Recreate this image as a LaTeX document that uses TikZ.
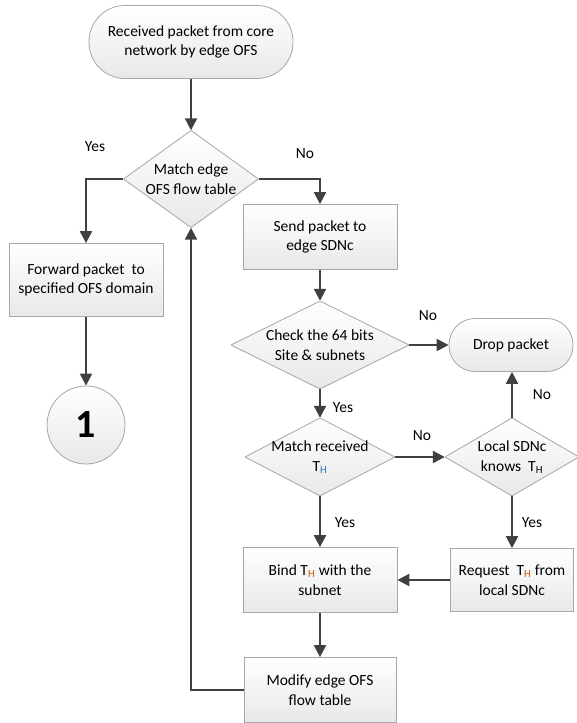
\documentclass[tikz,border=0pt]{standalone}
\usepackage{fontspec}
\setmainfont{Carlito}
\usetikzlibrary{arrows.meta}
\definecolor{linegray}{HTML}{404040}
\definecolor{edgegray}{HTML}{A6A6A6}
\definecolor{thblue}{HTML}{2E75B6}
\definecolor{thbrown}{HTML}{C55A11}
\newcommand{\tsub}[1]{T\textsubscript{#1}}
\tikzset{
  box/.style={draw=edgegray,line width=0.8pt,top color=white,bottom color=gray!18,
    minimum width=154pt,minimum height=65pt,align=center,inner sep=0pt},
  term/.style={box,rounded corners=#1},
  decision/.style={align=center,inner sep=0pt,
    path picture={
      \shade[top color=white,bottom color=gray!18]
        (path picture bounding box.north) -- (path picture bounding box.east)
        -- (path picture bounding box.south) -- (path picture bounding box.west) -- cycle;
      \draw[edgegray,line width=0.8pt]
        (path picture bounding box.north) -- (path picture bounding box.east)
        -- (path picture bounding box.south) -- (path picture bounding box.west) -- cycle;}},
  flow/.style={draw=linegray,line width=2.2pt,-{Triangle[length=12pt,width=12pt]}},
  lbl/.style={inner sep=0pt}
}
\begin{document}
\begin{tikzpicture}[x=1pt,y=-1pt,font=\fontsize{15.5}{19.5}\selectfont]
    \useasboundingbox (0,0) rectangle (577,723);
    %% left branch
    \node[term=36pt,minimum width=204pt,minimum height=73pt] (start) at (191,42) {Received packet from core\\network by edge OFS};
    \node[decision,minimum width=135pt,minimum height=97pt] (matchofs) at (191,179) {Match edge\\OFS flow table};
    \node[box,minimum height=73pt] (forward) at (86,280) {Forward packet\ \ to\\specified OFS domain};
    \node[box,circle,minimum width=78pt,minimum height=78pt,font=\fontsize{40}{40}\selectfont\bfseries] (one) at (86,425) {1};
    %% controller branch
    \node[box] (send) at (320,237) {Send packet to\\edge SDNc};
    \node[decision,minimum width=178pt,minimum height=88pt] (check) at (320,345) {Check the 64 bits\\Site \& subnets};
    \node[term=26pt,minimum width=124pt,minimum height=53pt] (drop) at (511,345) {Drop packet};
    \node[decision,minimum width=150pt,minimum height=78pt] (mrecv) at (320,457) {Match received\\\tsub{\textcolor{thblue}{H}}};
    \node[decision,minimum width=134pt,minimum height=78pt] (local) at (512,457) {Local SDNc\\knows\ \ \tsub{H}};
    \node[box] (bind) at (320,580) {Bind \tsub{\textcolor{thbrown}{H}} with the\\subnet};
    \node[box,minimum width=123pt,minimum height=63pt] (request) at (512,580) {Request\ \ \tsub{\textcolor{thbrown}{H}} from\\local SDNc};
    \node[box,minimum width=152pt] (modify) at (320,690) {Modify edge OFS\\flow table};
    %% connectors
    \draw[flow] (start.south) -- (matchofs.north);
    \draw[flow] (matchofs.west) -| (forward.north);
    \draw[flow] (matchofs.east) -| (send.north);
    \draw[flow] (forward.south) -- (one.north);
    \draw[flow] (send.south) -- (check.north);
    \draw[flow] (check.east) -- (drop.west);
    \draw[flow] (check.south) -- (mrecv.north);
    \draw[flow] (mrecv.east) -- (local.west);
    \draw[flow] (mrecv.south) -- (bind.north);
    \draw[flow] (local.south) -- (request.north);
    \draw[flow] (local.north) -- (local.north |- drop.south);
    \draw[flow] (request.west) -- (bind.east);
    \draw[flow] (bind.south) -- (modify.north);
    \draw[flow] (modify.west) -| (matchofs.south);
    %% labels
    \node[lbl] (yesfwd) at (95,147) {Yes};
    \node[lbl] (nosend) at (305,154) {No};
    \node[lbl] (nodrop) at (428,316) {No};
    \node[lbl] (yescheck) at (343,408) {Yes};
    \node[lbl] (nolocal) at (422,436) {No};
    \node[lbl] (yesbind) at (345,523) {Yes};
    \node[lbl] (yesreq) at (532,523) {Yes};
    \node[lbl] (noup) at (542,395) {No};
\end{tikzpicture}
\end{document}
